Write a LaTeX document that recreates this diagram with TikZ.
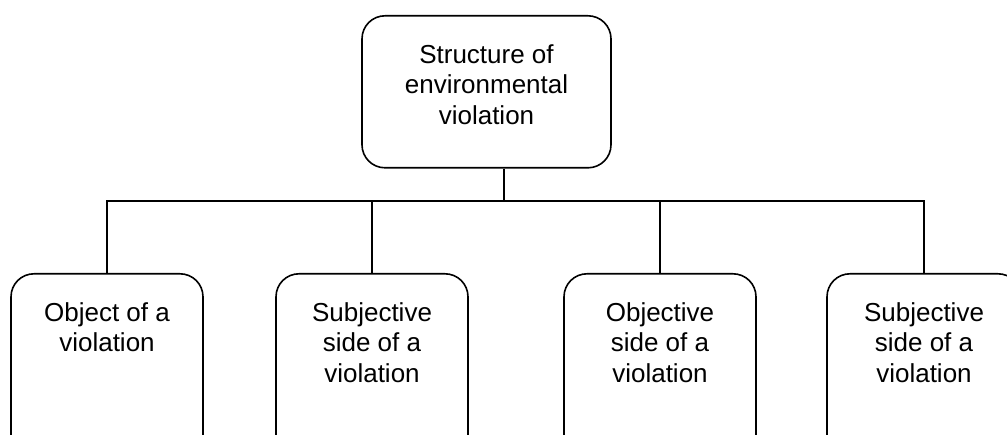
\documentclass[tikz,border=0pt]{standalone}
\usepackage{fontspec}
\setmainfont{Liberation Sans}
% top-aligned, centred text block of a given width and height
\newcommand\boxtext[3]{\parbox[c][#2][t]{#1}{\centering\fontsize{26}{30.5}\selectfont\vspace*{26pt}\strut #3\par}}
\begin{document}
\begin{tikzpicture}[x=1pt,y=1pt,
  box/.style={draw, line width=1.6pt, rounded corners=23pt, inner sep=0pt, anchor=north},
  link/.style={line width=1.6pt}]
\useasboundingbox (0,0) rectangle (1007,-435);
\clip (0,0) rectangle (1007,-435);

% root
\node[box] (top) at (486.5,-15) {\boxtext{249pt}{152pt}{Structure of\\environmental\\violation}};

% branches
\node[box] (obj)      at (107,-273) {\boxtext{192pt}{190pt}{Object of a\\violation}};
\node[box] (subj)     at (372,-273) {\boxtext{192pt}{190pt}{Subjective\\side of a\\violation}};
\node[box] (objside)  at (660,-273) {\boxtext{192pt}{190pt}{Objective\\side of a\\violation}};
\node[box] (subjside) at (924,-273) {\boxtext{194pt}{190pt}{Subjective\\side of a\\violation}};

% connectors
\coordinate (bus) at (504,-201);
\draw[link] (top.south -| bus) -- (bus);
\draw[link] (obj.north) |- (bus) -| (subjside.north);
\draw[link] (subj.north) -- (subj.north |- bus);
\draw[link] (objside.north) -- (objside.north |- bus);
\end{tikzpicture}
\end{document}
